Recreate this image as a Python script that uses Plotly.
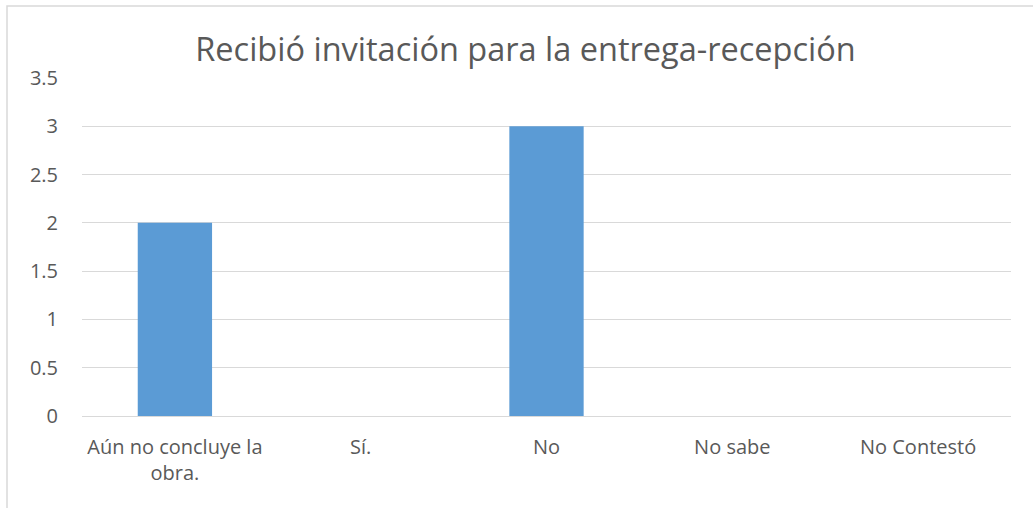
import plotly.graph_objects as go

categories = ["Aún no concluye la<br>obra.", "Sí.", "No", "No sabe", "No Contestó"]
values = [2, 0, 3, 0, 0]
y_ticks = [0, 0.5, 1, 1.5, 2, 2.5, 3, 3.5]
y_ticklabels = ["0", "0.5", "1", "1.5", "2", "2.5", "3", "3.5"]
title_text = "Recibió invitación para la entrega-recepción"

W, H = 1033, 508
L, R, T, B = 82, 22, 78, 92
pw, ph = W - L - R, H - T - B

fig = go.Figure(go.Bar(x=categories, y=values, marker=dict(color="#5B9BD5", line=dict(width=0))))

fig.update_layout(
    width=W, height=H,
    margin=dict(l=L, r=R, t=T, b=B, pad=0),
    paper_bgcolor="white", plot_bgcolor="white",
    bargap=0.6,
    showlegend=False,
    font=dict(family="Open Sans, Noto Sans, sans-serif", color="#595959", size=20),
    title=dict(text=title_text, x=525.5 / W, xanchor="center", y=1 - 50 / H, yanchor="middle",
               font=dict(size=32.5, color="#595959")),
    shapes=[dict(type="rect", xref="paper", yref="paper",
                 x0=(7 - L) / pw, x1=(1045 - L) / pw,
                 y0=-(530 - (H - B)) / ph, y1=((H - B) - 6) / ph,
                 line=dict(color="#D9D9D9", width=1.5), fillcolor="rgba(0,0,0,0)", layer="below")],
)
fig.update_xaxes(showgrid=False, showline=False, zeroline=False, ticks="outside", ticklen=13,
                 tickcolor="rgba(0,0,0,0)", tickfont=dict(size=20, color="#595959"))
fig.update_yaxes(range=[0, 3.5], tickvals=y_ticks, ticktext=y_ticklabels, showgrid=True,
                 gridcolor="#D9D9D9", gridwidth=1.3, zeroline=True, zerolinecolor="#D9D9D9",
                 zerolinewidth=1.3, showline=False, ticks="outside", ticklen=19,
                 tickcolor="rgba(0,0,0,0)", tickfont=dict(size=20, color="#595959"))

fig.write_html("out.html", config={"displayModeBar": False},
               post_script="document.body.style.margin='0';document.body.style.overflow='hidden';")
